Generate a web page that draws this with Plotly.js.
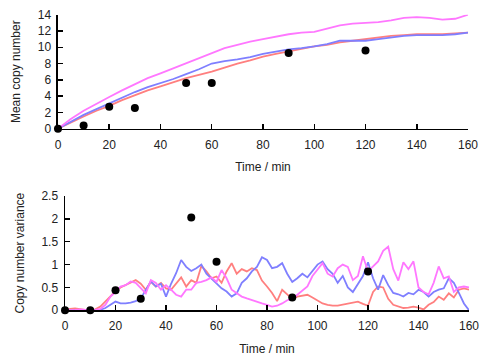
<!DOCTYPE html>
<html>
<head>
<meta charset="utf-8">
<script src="https://cdn.plot.ly/plotly-3.0.1.min.js"></script>
<style>
  html, body { margin: 0; padding: 0; background: #fff; }
  #chart { width: 491px; height: 363px; }
</style>
</head>
<body>
<div id="chart"></div>
<script>
// Mean copy number (top), simulated runs every 5 min
const meanTime = [0,5,10,15,20,25,30,35,40,45,50,55,60,65,70,75,80,85,90,95,100,105,110,115,120,125,130,135,140,145,150,155,160];
const meanMagenta = [0,1.2,2.2,3.1,3.9,4.7,5.4,6.2,6.8,7.4,8.0,8.6,9.3,9.9,10.3,10.7,11.0,11.3,11.6,11.8,11.9,12.3,12.7,12.9,13.0,13.1,13.3,13.6,13.7,13.6,13.4,13.5,14.0];
const meanBlue = [0,0.9,1.7,2.4,3.1,3.8,4.5,5.1,5.6,6.1,6.7,7.3,8.0,8.3,8.5,8.8,9.2,9.5,9.75,9.9,10.1,10.4,10.8,10.8,10.8,11.0,11.2,11.4,11.5,11.5,11.5,11.6,11.8];
const meanRed = [0,0.8,1.5,2.2,2.8,3.5,4.1,4.7,5.2,5.7,6.2,6.6,7.0,7.5,8.0,8.4,8.85,9.2,9.5,9.8,10.1,10.3,10.6,10.8,11.0,11.2,11.4,11.5,11.6,11.6,11.6,11.7,11.8];

// Measured points
const expTime = [0,10,20,30,50,60,90,120];
const expMean = [0,0.4,2.7,2.55,5.6,5.6,9.3,9.6];
const expVar = [0,0,0.44,0.25,2.03,1.06,0.28,0.85];

// Copy number variance (bottom), every 2 min
const varTime = [0,2,4,6,8,10,12,14,16,18,20,22,24,26,28,30,32,34,36,38,40,42,44,46,48,50,52,54,56,58,60,62,64,66,68,70,72,74,76,78,80,82,84,86,88,90,92,94,96,98,100,102,104,106,108,110,112,114,116,118,120,122,124,126,128,130,132,134,136,138,140,142,144,146,148,150,152,154,156,158,160];
const varRed = [0,0.03,0.04,0.02,0.01,0.01,0.02,0.08,0.2,0.3,0.42,0.5,0.55,0.6,0.66,0.58,0.45,0.62,0.52,0.6,0.48,0.45,0.58,0.72,0.52,0.66,0.6,0.97,0.85,0.7,0.74,0.6,0.85,1.03,0.8,0.9,0.85,0.92,0.88,0.65,0.52,0.38,0.2,0.45,0.35,0.25,0.3,0.32,0.34,0.28,0.22,0.15,0.12,0.1,0.1,0.12,0.14,0.16,0.19,0.14,0.1,0.4,0.52,0.5,0.25,0.12,0.08,0.05,0.06,0.08,0.06,0.02,0.12,0.18,0.3,0.23,0.37,0.28,0.45,0.48,0.45];
const varMagenta = [0,0,0.01,0.02,0.01,0,0.01,0.03,0.12,0.3,0.4,0.52,0.55,0.63,0.6,0.48,0.37,0.66,0.6,0.45,0.55,0.45,0.34,0.3,0.45,0.45,0.6,0.62,0.66,0.72,0.62,0.88,0.7,0.45,0.38,0.3,0.26,0.22,0.18,0.15,0.12,0.08,0.1,0.15,0.22,0.25,0.34,0.42,0.52,0.75,0.9,1.03,0.8,0.74,0.92,1.0,0.95,0.66,0.75,1.18,0.85,0.95,1.07,1.3,1.39,0.9,0.65,1.05,0.9,1.07,0.5,0.4,0.35,0.6,0.96,0.7,0.74,0.4,0.5,0.52,0.5];
const varBlue = [0,0,0,0,0,0,0,0.01,0.05,0.12,0.19,0.15,0.15,0.17,0.2,0.26,0.45,0.63,0.52,0.58,0.3,0.58,0.81,1.1,0.95,0.86,0.92,1.0,0.8,0.7,0.6,0.48,0.41,0.3,0.37,0.6,0.7,0.85,0.95,1.16,1.1,0.92,0.95,1.03,0.8,0.62,0.7,0.8,0.72,0.85,1.0,1.07,0.9,0.8,0.6,0.75,0.5,0.4,0.58,0.75,1.05,0.7,0.45,0.77,0.55,0.38,0.35,0.3,0.38,0.35,0.45,0.4,0.3,0.4,0.45,0.48,0.7,0.6,0.38,0.15,0];

const RED = '#ff7f7f';
const BLUE = '#7f7fff';
const MAGENTA = '#ff77ff';

function line(x, y, color, xa, ya) {
    return {
        x: x, y: y, xaxis: xa, yaxis: ya,
        type: 'scatter', mode: 'lines',
        line: { color: color, width: 1.8 },
        hoverinfo: 'skip'
    };
}

function dots(x, y, xa, ya) {
    return {
        x: x, y: y, xaxis: xa, yaxis: ya,
        type: 'scatter', mode: 'markers',
        marker: { color: '#000', size: 8 },
        cliponaxis: false
    };
}

const traces = [
    line(meanTime, meanRed, RED, 'x', 'y'),
    line(meanTime, meanBlue, BLUE, 'x', 'y'),
    line(meanTime, meanMagenta, MAGENTA, 'x', 'y'),
    dots(expTime, expMean, 'x', 'y'),
    line(varTime, varRed, RED, 'x2', 'y2'),
    line(varTime, varBlue, BLUE, 'x2', 'y2'),
    line(varTime, varMagenta, MAGENTA, 'x2', 'y2'),
    dots(expTime, expVar, 'x2', 'y2')
];

const axisStyle = {
    showline: true,
    linecolor: '#000',
    linewidth: 1.5,
    ticks: 'inside',
    ticklen: 5,
    tickwidth: 1.5,
    tickcolor: '#000',
    showgrid: false,
    zeroline: false,
    tickfont: { size: 12, color: '#222' }
};

const xTicks = [0,20,40,60,80,100,120,140,160];

const layout = {
    width: 491,
    height: 363,
    margin: { l: 0, r: 0, t: 0, b: 0 },
    paper_bgcolor: '#fff',
    plot_bgcolor: '#fff',
    showlegend: false,
    font: { family: 'Liberation Sans, Arial, sans-serif', size: 12, color: '#222' },
    xaxis: Object.assign({}, axisStyle, {
        domain: [0.1181, 0.9532], anchor: 'y',
        range: [0, 160], tickvals: xTicks, ticklabelstandoff: 4,
        title: { text: 'Time / min', standoff: 12, font: { size: 12 } }
    }),
    yaxis: Object.assign({}, axisStyle, {
        domain: [0.6455, 0.9595], anchor: 'x',
        range: [0, 14], tickvals: [0,2,4,6,8,10,12,14], ticklabelstandoff: 3,
        title: { text: 'Mean copy number', standoff: 14, font: { size: 12 } }
    }),
    xaxis2: Object.assign({}, axisStyle, {
        domain: [0.1324, 0.9552], anchor: 'y2',
        range: [0, 160], tickvals: xTicks, ticklabelstandoff: 4,
        title: { text: 'Time / min', standoff: 12, font: { size: 12 } }
    }),
    yaxis2: Object.assign({}, axisStyle, {
        domain: [0.1452, 0.4601], anchor: 'x2',
        range: [0, 2.5], tickvals: [0,0.5,1,1.5,2,2.5], ticklabelstandoff: 3,
        title: { text: 'Copy number variance', standoff: 14, font: { size: 12 } }
    })
};

Plotly.newPlot('chart', traces, layout, { displayModeBar: false, staticPlot: true });
</script>
</body>
</html>
